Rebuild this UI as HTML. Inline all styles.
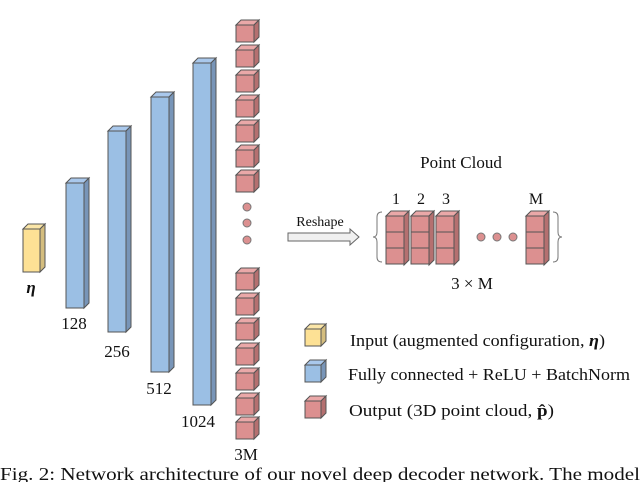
<!DOCTYPE html>
<html><head><meta charset="utf-8"><style>
html,body{margin:0;padding:0;background:#fff;width:640px;height:482px;overflow:hidden}
text{font-family:"Liberation Serif",serif;fill:#111}
</style></head><body>
<svg width="640" height="482" viewBox="0 0 640 482" xmlns="http://www.w3.org/2000/svg">
<defs>
<g id="rc" stroke="#555" stroke-width="1">
<polygon points="0,5 5,0 23,0 18,5" fill="#eaa8a8"/>
<polygon points="18,5 23,0 23,17 18,22" fill="#b57070"/>
<rect x="0" y="5" width="18" height="17" fill="#dc9090"/>
</g>
<g id="pc" stroke="#555" stroke-width="1">
<rect x="0" y="0" width="18" height="16" fill="#dc9090"/>
</g>
</defs>
<g stroke="#555">
<polygon points="23,229 28,224 45,224 40,229" fill="#fbe6a8"/>
<polygon points="40,229 45,224 45,267 40,272" fill="#d4bd7e"/>
<rect x="23" y="229" width="17" height="43" fill="#fde195"/>
</g>
<text x="31" y="293" font-size="17" font-weight="bold" font-style="italic" text-anchor="middle">η</text>
<g stroke="#555">
<polygon points="66,183 71,178 89,178 84,183" fill="#a9c8ec"/>
<polygon points="84,183 89,178 89,303 84,308" fill="#7895b8"/>
<rect x="66" y="183" width="18" height="125" fill="#9bbfe4"/>
<polygon points="108,131 113,126 131,126 126,131" fill="#a9c8ec"/>
<polygon points="126,131 131,126 131,327 126,332" fill="#7895b8"/>
<rect x="108" y="131" width="18" height="201" fill="#9bbfe4"/>
<polygon points="151,97 156,92 174,92 169,97" fill="#a9c8ec"/>
<polygon points="169,97 174,92 174,367 169,372" fill="#7895b8"/>
<rect x="151" y="97" width="18" height="275" fill="#9bbfe4"/>
<polygon points="193,63 198,58 216,58 211,63" fill="#a9c8ec"/>
<polygon points="211,63 216,58 216,400 211,405" fill="#7895b8"/>
<rect x="193" y="63" width="18" height="342" fill="#9bbfe4"/>
</g>
<g font-size="17" text-anchor="middle">
<text x="74" y="329">128</text>
<text x="117" y="357">256</text>
<text x="159" y="394">512</text>
<text x="198" y="427">1024</text>
<text x="246" y="460">3M</text>
</g>
<use href="#rc" x="236" y="20"/><use href="#rc" x="236" y="45"/><use href="#rc" x="236" y="70"/>
<use href="#rc" x="236" y="95"/><use href="#rc" x="236" y="120"/><use href="#rc" x="236" y="145"/>
<use href="#rc" x="236" y="170"/>
<g fill="#dc9090" stroke="#777"><circle cx="247" cy="207" r="4"/><circle cx="247" cy="223" r="4"/><circle cx="247" cy="240" r="4"/></g>
<use href="#rc" x="236" y="268"/><use href="#rc" x="236" y="293"/><use href="#rc" x="236" y="318"/>
<use href="#rc" x="236" y="343"/><use href="#rc" x="236" y="368"/><use href="#rc" x="236" y="393"/>
<use href="#rc" x="236" y="417"/>
<text x="320" y="226" font-size="14" text-anchor="middle">Reshape</text>
<polygon points="288,233 350,233 350,229 359,237 350,245 350,241 288,241" fill="#f0f0f0" stroke="#666"/>
<text x="461" y="168" font-size="17" text-anchor="middle">Point Cloud</text>
<g font-size="16" text-anchor="middle"><text x="396" y="204">1</text><text x="421" y="204">2</text><text x="446" y="204">3</text><text x="536" y="204">M</text></g>
<path d="M382,212 Q377,212 377,217 L377,232 Q377,237 373,237 Q377,237 377,242 L377,257 Q377,262 382,262" fill="none" stroke="#777"/>
<path d="M553,212 Q558,212 558,217 L558,232 Q558,237 562,237 Q558,237 558,242 L558,257 Q558,262 553,262" fill="none" stroke="#777"/>
<g stroke="#555">
<polygon points="386,216 391,211 409,211 404,216" fill="#eaa8a8"/><polygon points="404,216 409,211 409,260 404,265" fill="#b57070"/>
<polygon points="411,216 416,211 434,211 429,216" fill="#eaa8a8"/><polygon points="429,216 434,211 434,260 429,265" fill="#b57070"/>
<polygon points="436,216 441,211 459,211 454,216" fill="#eaa8a8"/><polygon points="454,216 459,211 459,260 454,265" fill="#b57070"/>
<polygon points="526,216 531,211 549,211 544,216" fill="#eaa8a8"/><polygon points="544,216 549,211 549,260 544,265" fill="#b57070"/>
</g>
<use href="#pc" x="386" y="216"/><use href="#pc" x="386" y="232"/><use href="#pc" x="386" y="248"/>
<use href="#pc" x="411" y="216"/><use href="#pc" x="411" y="232"/><use href="#pc" x="411" y="248"/>
<use href="#pc" x="436" y="216"/><use href="#pc" x="436" y="232"/><use href="#pc" x="436" y="248"/>
<use href="#pc" x="526" y="216"/><use href="#pc" x="526" y="232"/><use href="#pc" x="526" y="248"/>
<g fill="#dc9090" stroke="#777"><circle cx="481" cy="237" r="4"/><circle cx="497" cy="237" r="4"/><circle cx="513" cy="237" r="4"/></g>
<text x="472" y="289" font-size="17" text-anchor="middle">3 × M</text>
<g stroke="#555">
<polygon points="305,329 310,324 326,324 321,329" fill="#fbe6a8"/><polygon points="321,329 326,324 326,341 321,346" fill="#d4bd7e"/><rect x="305" y="329" width="16" height="17" fill="#fde195"/>
<polygon points="305,365 310,360 326,360 321,365" fill="#a9c8ec"/><polygon points="321,365 326,360 326,377 321,382" fill="#7895b8"/><rect x="305" y="365" width="16" height="17" fill="#9bbfe4"/>
<polygon points="305,401 310,396 326,396 321,401" fill="#eaa8a8"/><polygon points="321,401 326,396 326,413 321,418" fill="#b57070"/><rect x="305" y="401" width="16" height="17" fill="#dc9090"/>
</g>
<g font-size="17">
<text x="350" y="346" textLength="255" lengthAdjust="spacingAndGlyphs">Input (augmented configuration, <tspan font-weight="bold" font-style="italic">η</tspan>)</text>
<text x="348" y="380" textLength="282" lengthAdjust="spacingAndGlyphs">Fully connected + ReLU + BatchNorm</text>
<text x="349" y="416" textLength="205" lengthAdjust="spacingAndGlyphs">Output (3D point cloud,  <tspan font-weight="bold">p̂</tspan>)</text>
</g>
<text x="0" y="480" font-size="17.5" textLength="640" lengthAdjust="spacingAndGlyphs">Fig. 2: Network architecture of our novel deep decoder network. The model</text>
</svg>
</body></html>
